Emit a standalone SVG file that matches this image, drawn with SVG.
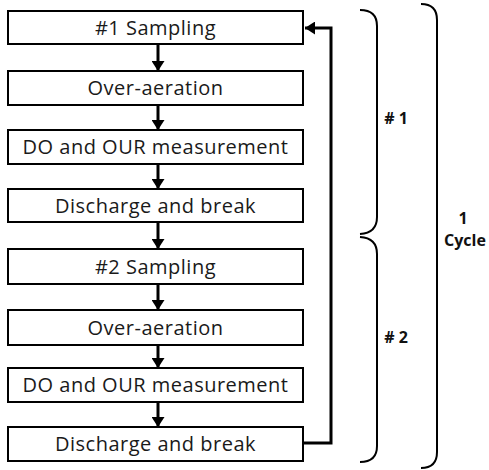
<svg xmlns="http://www.w3.org/2000/svg" width="489" height="470" viewBox="0 0 489 470">
<defs>
<marker id="ah" markerWidth="10" markerHeight="13" refX="10" refY="6.5" orient="auto" markerUnits="userSpaceOnUse">
<path d="M0,0 L10,6.5 L0,13 Z" fill="#000"/>
</marker>
</defs>
<style>
.box{fill:#fff;stroke:#000;stroke-width:2}
.t{font-family:"Open Sans","Noto Sans",sans-serif;font-size:20px;letter-spacing:0.5px;fill:#1a1a1a;text-anchor:middle}
.lbl{font-family:"Open Sans","Noto Sans",sans-serif;font-size:16px;font-weight:bold;fill:#111;text-anchor:middle}
.c{fill:none;stroke:#000;stroke-width:3}
.br{fill:none;stroke:#000;stroke-width:2}
</style>
<rect width="489" height="470" fill="#fff"/>
<g id="connectors">
<line class="c" x1="158" y1="44" x2="158" y2="71" marker-end="url(#ah)"/>
<line class="c" x1="158" y1="105" x2="158" y2="130" marker-end="url(#ah)"/>
<line class="c" x1="158" y1="164" x2="158" y2="189" marker-end="url(#ah)"/>
<line class="c" x1="158" y1="222" x2="158" y2="249" marker-end="url(#ah)"/>
<line class="c" x1="158" y1="284" x2="158" y2="310" marker-end="url(#ah)"/>
<line class="c" x1="158" y1="345" x2="158" y2="368" marker-end="url(#ah)"/>
<line class="c" x1="158" y1="402" x2="158" y2="427" marker-end="url(#ah)"/>
<polyline class="c" points="303,443 331,443 331,28 305,28" marker-end="url(#ah)"/>
</g>
<g id="n1"><rect class="box" x="8" y="11" width="295" height="33"/><text class="t" x="155.5" y="34.5">#1 Sampling</text></g>
<g id="n2"><rect class="box" x="8" y="71" width="295" height="34"/><text class="t" x="155.5" y="95">Over-aeration</text></g>
<g id="n3"><rect class="box" x="8" y="130" width="295" height="34"/><text class="t" x="155.5" y="154">DO and OUR measurement</text></g>
<g id="n4"><rect class="box" x="8" y="189" width="295" height="33"/><text class="t" x="155.5" y="212.5">Discharge and break</text></g>
<g id="n5"><rect class="box" x="8" y="249" width="295" height="35"/><text class="t" x="155.5" y="273.5">#2 Sampling</text></g>
<g id="n6"><rect class="box" x="8" y="310" width="295" height="35"/><text class="t" x="155.5" y="334.5">Over-aeration</text></g>
<g id="n7"><rect class="box" x="8" y="368" width="295" height="34"/><text class="t" x="155.5" y="392">DO and OUR measurement</text></g>
<g id="n8"><rect class="box" x="8" y="427" width="295" height="34"/><text class="t" x="155.5" y="451">Discharge and break</text></g>
<g id="brace1">
<path class="br" d="M360,10 Q377,10 377,26 L377,217 Q377,233 360,234"/>
<text class="lbl" x="396" y="124"># 1</text>
</g>
<g id="brace2">
<path class="br" d="M360,237 Q377,238 377,254 L377,446 Q377,462 360,462"/>
<text class="lbl" x="396" y="343"># 2</text>
</g>
<g id="brace3">
<path class="br" d="M421,4 Q437,4 437,20 L437,452 Q437,468 421,468"/>
<text class="lbl" x="463" y="224">1</text>
<text class="lbl" x="465" y="246">Cycle</text>
</g>
</svg>
